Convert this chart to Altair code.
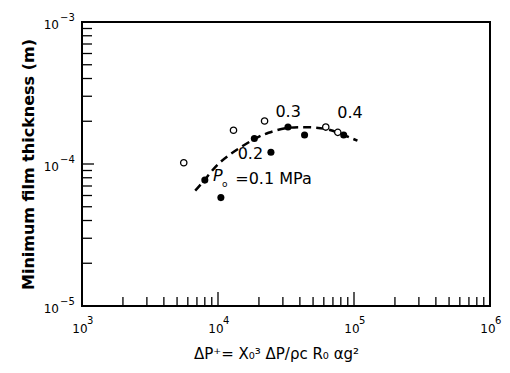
import math
import altair as alt
import pandas as pd

# ---- data ----
open_x = [5.6e3, 1.3e4, 2.2e4, 6.2e4, 7.6e4]
open_y = [1.02e-4, 1.73e-4, 2.01e-4, 1.82e-4, 1.67e-4]

filled_x = [8.0e3, 1.05e4, 1.85e4, 2.45e4, 3.27e4, 4.33e4, 8.4e4]
filled_y = [7.7e-5, 5.8e-5, 1.51e-4, 1.21e-4, 1.82e-4, 1.60e-4, 1.60e-4]

curve_x = [6.8e3, 8.0e3, 9.8e3, 1.3e4, 1.85e4, 2.3e4, 3.27e4, 4.33e4, 6.2e4, 8.4e4, 1.06e5]
curve_y = [6.5e-5, 7.7e-5, 1.0e-4, 1.22e-4, 1.51e-4, 1.66e-4, 1.82e-4, 1.82e-4, 1.80e-4, 1.60e-4, 1.46e-4]

num_labels = ["0.3", "0.4", "0.2"]
num_x = [3.28e4, 9.35e4, 1.73e4]
num_y = [2.32e-4, 2.30e-4, 1.17e-4]

p_label = ["P"]
p_x = [9.2e3]
p_y = [8.2e-5]
sub_label = ["o"]
sub_x = [1.07e4]
sub_y = [7.2e-5]
mpa_label = ["=0.1 MPa"]
mpa_x = [1.34e4]
mpa_y = [7.8e-5]

x_major = [1e3, 1e4, 1e5, 1e6]
x_major_exp = ["3", "4", "5", "6"]
y_major = [1e-5, 1e-4, 1e-3]
y_major_exp = ["−5", "−4", "−3"]
tick_base = "10"
x_minor = [m * d for d in [1e3, 1e4, 1e5] for m in range(2, 10)]
y_minor = [m * d for d in [1e-5, 1e-4] for m in range(2, 10)]

x_title = "ΔP⁺= X₀³ ΔP/ρc R₀ αg²"
y_title = "Minimum film thickness (m)"

# ---- chart ----
W, H = 408, 284
FONT = "DejaVu Sans"

xscale = alt.Scale(type="log", domain=[1e3, 1e6], nice=False)
yscale = alt.Scale(type="log", domain=[1e-5, 1e-3], nice=False)

xaxis = alt.Axis(values=x_major, labels=False, ticks=False, grid=False, domain=False,
                 title=x_title, titleFont=FONT, titleFontSize=15, titleFontWeight="normal",
                 titleColor="black", titlePadding=40, titleX=194)
yaxis = alt.Axis(values=y_major, labels=False, ticks=False, grid=False, domain=False,
                 title=y_title, titleFont=FONT, titleFontSize=16, titleFontWeight="bold",
                 titleColor="black", titlePadding=46)

X = lambda: alt.X("x:Q", scale=xscale, axis=xaxis)
Y = lambda: alt.Y("y:Q", scale=yscale, axis=yaxis)

df_open = pd.DataFrame({"x": open_x, "y": open_y})
df_filled = pd.DataFrame({"x": filled_x, "y": filled_y})
df_curve = pd.DataFrame({"x": curve_x, "y": curve_y})
df_xmin = pd.DataFrame({"x": x_minor})
df_xmaj = pd.DataFrame({"x": x_major, "b": [tick_base] * len(x_major), "e": x_major_exp})
df_ymin = pd.DataFrame({"y": y_minor})
df_ymaj = pd.DataFrame({"y": y_major, "b": [tick_base] * len(y_major), "e": y_major_exp})

xt_min = alt.Chart(df_xmin).mark_rule(color="black", strokeWidth=1.3).encode(
    x=X(), y=alt.value(H), y2=alt.value(H - 9))
xt_maj = alt.Chart(df_xmaj).mark_rule(color="black", strokeWidth=1.3).encode(
    x=X(), y=alt.value(H), y2=alt.value(H - 14))
yt_min = alt.Chart(df_ymin).mark_rule(color="black", strokeWidth=1.3).encode(
    y=Y(), x=alt.value(0), x2=alt.value(10))
yt_maj = alt.Chart(df_ymaj).mark_rule(color="black", strokeWidth=1.3).encode(
    y=Y(), x=alt.value(0), x2=alt.value(12))

# tick labels: "10" with a raised exponent
xl_base = alt.Chart(df_xmaj).mark_text(font=FONT, fontSize=12, align="center", baseline="middle",
                                       color="black", dx=-2).encode(
    x=X(), y=alt.value(H + 23), text="b:N")
xl_exp = alt.Chart(df_xmaj).mark_text(font=FONT, fontSize=10, align="left", baseline="middle",
                                      color="black", dx=5).encode(
    x=X(), y=alt.value(H + 15), text="e:N")
yl_base = alt.Chart(df_ymaj).mark_text(font=FONT, fontSize=12, align="right", baseline="middle",
                                       color="black", dy=3).encode(
    y=Y(), x=alt.value(-23), text="b:N")
yl_exp = alt.Chart(df_ymaj).mark_text(font=FONT, fontSize=10, align="left", baseline="middle",
                                      color="black", dy=-4).encode(
    y=Y(), x=alt.value(-22), text="e:N")

curve = alt.Chart(df_curve).mark_line(color="black", strokeWidth=2.5, strokeDash=[8, 5],
                                      interpolate="basis").encode(x=X(), y=Y())
opens = alt.Chart(df_open).mark_point(shape="circle", size=40, filled=True, fill="white",
                                      stroke="black", strokeWidth=1.3, opacity=1).encode(x=X(), y=Y())
fills = alt.Chart(df_filled).mark_point(shape="circle", size=50, filled=True, color="black",
                                        opacity=1).encode(x=X(), y=Y())

df_num = pd.DataFrame({"x": num_x, "y": num_y, "t": num_labels})
df_p = pd.DataFrame({"x": p_x, "y": p_y, "t": p_label})
df_sub = pd.DataFrame({"x": sub_x, "y": sub_y, "t": sub_label})
df_mpa = pd.DataFrame({"x": mpa_x, "y": mpa_y, "t": mpa_label})

t_num = alt.Chart(df_num).mark_text(font=FONT, fontSize=16, align="center", baseline="middle",
                                    color="black").encode(x=X(), y=Y(), text="t:N")
t_p = alt.Chart(df_p).mark_text(font=FONT, fontSize=16, fontStyle="italic", align="left",
                                baseline="middle", color="black").encode(x=X(), y=Y(), text="t:N")
t_sub = alt.Chart(df_sub).mark_text(font=FONT, fontSize=9, align="left", baseline="middle",
                                    color="black").encode(x=X(), y=Y(), text="t:N")
t_mpa = alt.Chart(df_mpa).mark_text(font=FONT, fontSize=16, align="left", baseline="middle",
                                    color="black").encode(x=X(), y=Y(), text="t:N")

chart = alt.layer(xt_min, xt_maj, yt_min, yt_maj, xl_base, xl_exp, yl_base, yl_exp,
                  curve, opens, fills, t_num, t_p, t_sub, t_mpa).properties(
    width=W, height=H, autosize="none",
    padding={"left": 74, "top": 14, "right": 12, "bottom": 59},
    background="white",
).configure_view(stroke="black", strokeWidth=2)

chart.save("out.html", embed_options={"renderer": "svg", "actions": False})
